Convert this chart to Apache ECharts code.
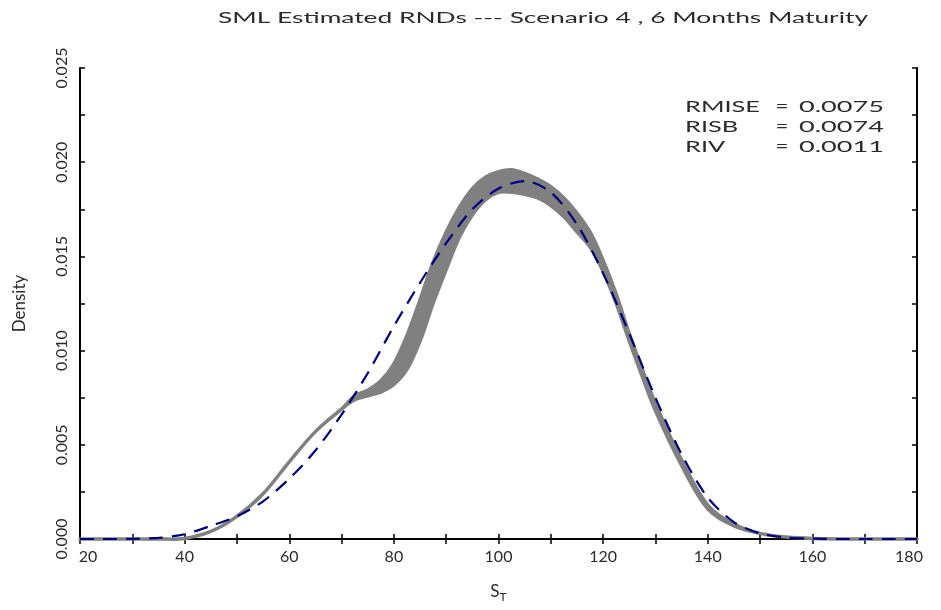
<!DOCTYPE html>
<html>
<head>
<meta charset="utf-8">
<script src="https://cdn.jsdelivr.net/npm/echarts@6/dist/echarts.min.js"></script>
<style>
html,body{margin:0;padding:0;background:#fff;}
#chart{width:941px;height:610px;}
</style>
</head>
<body>
<div id="chart"></div>
<script>
// ---- data ----
const TITLE = 'SML Estimated RNDs --- Scenario 4 , 6 Months Maturity';
const X_NAME = 'S';
const X_SUB = 'T';
const Y_NAME = 'Density';
const X_MIN = 20, X_MAX = 180, X_LABEL_STEP = 20, X_TICK_STEP = 10;
const Y_MIN = 0, Y_MAX = 0.025, Y_LABEL_STEP = 0.005, Y_TICK_STEP = 0.0025;

const STAT_NAMES = ['RMISE', 'RISB', 'RIV'];
const STAT_VALUES = ['0.0075', '0.0074', '0.0011'];

// true density (dashed navy)
const S_TRUE = [20,25,30,35,40,45,50,55,60,65,70,75,80,85,90,95,100,105,110,115,120,125,130,135,140,145,150,155,160,165,170,175,180];
const TRUE_DENSITY = [0,0,0.00001,0.00006,0.00025,0.0007,0.0012,0.0020,0.0032,0.0047,0.0066,0.0088,0.0113,0.0136,0.0157,0.0175,0.0186,0.0190,0.0184,0.0167,0.0141,0.0109,0.0075,0.0045,0.0022,0.0009,0.0003,0.00008,0.00002,0,0,0,0];

// estimated densities envelope (grey band)
const S_EST = [20,30,35,40,45,50,55,60,65,70,72.5,75,77.5,80,82.5,85,87.5,90,92.5,95,97.5,100,102.5,105,107.5,110,112.5,115,117.5,120,122.5,125,127.5,130,135,140,145,150,155,160,170,180];
const EST_LOWER = [0,0,0,0.00003,0.0004,0.0012,0.0024,0.0041,0.0057,0.0069,0.0074,0.0076,0.0078,0.0082,0.0090,0.0105,0.0125,0.0143,0.0160,0.0172,0.0180,0.0184,0.0184,0.0183,0.0181,0.0177,0.0171,0.0163,0.0155,0.0142,0.0125,0.0105,0.0086,0.0068,0.0039,0.0016,0.0007,0.0003,0.0001,0.00003,0,0];
const EST_UPPER = [0,0,0,0.00003,0.0004,0.0012,0.0024,0.0041,0.0057,0.0069,0.0076,0.0079,0.0084,0.0093,0.0108,0.0127,0.0147,0.0163,0.0176,0.0186,0.0192,0.0195,0.0196,0.0194,0.0191,0.0187,0.0181,0.0173,0.0163,0.0148,0.0130,0.0109,0.0090,0.0072,0.0042,0.0018,0.0008,0.0003,0.0001,0.00003,0,0];

// ---- chart ----
const GREY = '#808080';
const NAVY = '#00007f';
const FONT = 'Lato';
const TEXT_COLOR = '#2a2a2a';
const chart = echarts.init(document.getElementById('chart'), null, {renderer: 'canvas'});

const truePts = S_TRUE.map((s, i) => [s, TRUE_DENSITY[i]]);
const isMult = (v, step) => Math.abs(v / step - Math.round(v / step)) < 1e-6;

const mctx = document.createElement('canvas').getContext('2d');
function textWidth(t, font) { mctx.font = font; return mctx.measureText(t).width; }

const axisTextStyle = {color: TEXT_COLOR, fontFamily: FONT, fontSize: 16,
  rich: {
    first: {color: TEXT_COLOR, fontFamily: FONT, fontSize: 16, padding: [0, 0, 0, 16]},
    last: {color: TEXT_COLOR, fontFamily: FONT, fontSize: 16, padding: [0, 16, 0, 0]}
  }};

function xLabel(v) {
  if (!isMult(v - X_MIN, X_LABEL_STEP)) return '';
  if (v === X_MIN) return '{first|' + v + '}';
  if (v === X_MAX) return '{last|' + v + '}';
  return String(v);
}

function bandRenderItem(params, api) {
  const pts = [];
  for (let i = 0; i < S_EST.length; i++) pts.push(api.coord([S_EST[i], EST_UPPER[i]]));
  for (let i = S_EST.length - 1; i >= 0; i--) pts.push(api.coord([S_EST[i], EST_LOWER[i]]));
  return {
    type: 'polygon',
    shape: {points: pts, smooth: 0.35},
    style: {fill: GREY, stroke: GREY, lineWidth: 3.5, lineJoin: 'round'}
  };
}

const titleFont = '16px "' + FONT + '"';
const titleScale = 650 / textWidth(TITLE, titleFont);
const statFont = '16px "' + FONT + '"';
const nameScale = 75 / textWidth(STAT_NAMES[0], statFont);
const valueScale = 85 / textWidth(STAT_VALUES[0], statFont);

const option = {
  animation: false,
  backgroundColor: '#fff',
  grid: {left: 80, right: 24, top: 68, bottom: 71, containLabel: false},
  xAxis: [
    {
      type: 'value', min: X_MIN, max: X_MAX, interval: X_TICK_STEP, position: 'bottom',
      axisLine: {lineStyle: {color: '#000', width: 2}},
      axisTick: {inside: true, length: 5, lineStyle: {color: '#000', width: 1.5}},
      splitLine: {show: false},
      axisLabel: Object.assign({margin: 10, formatter: xLabel}, axisTextStyle),
      name: X_NAME + '{sub|' + X_SUB + '}', nameLocation: 'middle', nameGap: 42,
      nameTextStyle: {color: TEXT_COLOR, fontFamily: FONT, fontSize: 17, rich: {sub: {fontSize: 12, fontFamily: FONT, color: TEXT_COLOR, verticalAlign: 'bottom', padding: [10, 0, 0, 0]}}}
    },
    {
      type: 'value', min: X_MIN, max: X_MAX, interval: X_TICK_STEP, position: 'top',
      axisLine: {lineStyle: {color: '#000', width: 2}},
      axisTick: {inside: true, length: 5, lineStyle: {color: '#000', width: 1.5}},
      splitLine: {show: false}, axisLabel: {show: false}
    }
  ],
  yAxis: [
    {
      type: 'value', min: Y_MIN, max: Y_MAX, interval: Y_TICK_STEP, position: 'left',
      axisLine: {show: true, lineStyle: {color: '#000', width: 2}},
      axisTick: {show: true, inside: true, length: 5, lineStyle: {color: '#000', width: 1.5}},
      splitLine: {show: false},
      axisLabel: {rotate: 90, margin: 10, color: TEXT_COLOR, fontFamily: FONT, fontSize: 16,
                  formatter: v => isMult(v, Y_LABEL_STEP) ? v.toFixed(3) : ''},
      name: Y_NAME, nameLocation: 'middle', nameGap: 52, nameRotate: 90,
      nameTextStyle: {color: TEXT_COLOR, fontFamily: FONT, fontSize: 17}
    },
    {
      type: 'value', min: Y_MIN, max: Y_MAX, interval: Y_TICK_STEP, position: 'right',
      axisLine: {show: true, lineStyle: {color: '#000', width: 2}},
      axisTick: {show: true, inside: true, length: 5, lineStyle: {color: '#000', width: 1.5}},
      splitLine: {show: false}, axisLabel: {show: false}
    }
  ],
  series: [
    {type: 'custom', renderItem: bandRenderItem, data: [[S_EST[0], EST_LOWER[0]]], clip: false, z: 2, silent: true},
    {type: 'line', data: truePts, smooth: 0.3, showSymbol: false, symbol: 'none',
     lineStyle: {color: NAVY, width: 2.2, type: [14, 9]}, clip: false, z: 4, silent: true}
  ],
  graphic: [
    {type: 'text', x: 543, y: 18, scaleX: titleScale, z: 10,
     style: {text: TITLE, fill: TEXT_COLOR, font: titleFont, align: 'center', verticalAlign: 'middle'}}
  ]
};

const statRowsY = [107, 127, 147];
STAT_NAMES.forEach((n, i) => {
  option.graphic.push({type: 'text', x: 685, y: statRowsY[i], scaleX: nameScale, z: 10,
    style: {text: n, fill: TEXT_COLOR, font: statFont, verticalAlign: 'middle'}});
  option.graphic.push({type: 'text', x: 782, y: statRowsY[i], scaleX: 1.4, z: 10,
    style: {text: '=', fill: TEXT_COLOR, font: statFont, align: 'center', verticalAlign: 'middle'}});
  option.graphic.push({type: 'text', x: 799, y: statRowsY[i], scaleX: valueScale, z: 10,
    style: {text: STAT_VALUES[i], fill: TEXT_COLOR, font: statFont, verticalAlign: 'middle'}});
});

chart.setOption(option);
</script>
</body>
</html>
